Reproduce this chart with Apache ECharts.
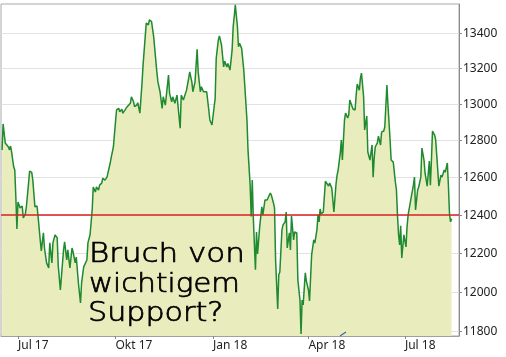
<!DOCTYPE html>
<html>
<head>
<meta charset="utf-8">
<script src="https://cdn.jsdelivr.net/npm/echarts@6/dist/echarts.min.js"></script>
<style>
html,body{margin:0;padding:0;background:#fff;}
#c{width:506px;height:357px;}
</style>
</head>
<body>
<div id="c"></div>
<script>
// ---- data ----
const dates = [
 '2017-06-16','2017-06-17','2017-06-19','2017-06-20','2017-06-22','2017-06-23','2017-06-24','2017-06-25','2017-06-27','2017-06-28','2017-06-29','2017-06-30',
 '2017-07-01','2017-07-03','2017-07-05','2017-07-06','2017-07-08','2017-07-09','2017-07-11','2017-07-12','2017-07-14','2017-07-15','2017-07-17','2017-07-19','2017-07-20','2017-07-22','2017-07-23','2017-07-25','2017-07-26','2017-07-28','2017-07-30','2017-07-31',
 '2017-08-02','2017-08-03','2017-08-05','2017-08-07','2017-08-08','2017-08-10','2017-08-13','2017-08-14','2017-08-16','2017-08-17','2017-08-19','2017-08-21','2017-08-22','2017-08-24','2017-08-25','2017-08-27','2017-08-29','2017-08-30',
 '2017-09-01','2017-09-02','2017-09-04','2017-09-05','2017-09-07','2017-09-09','2017-09-10','2017-09-12','2017-09-13','2017-09-15','2017-09-16','2017-09-18','2017-09-19','2017-09-21','2017-09-23','2017-09-24','2017-09-26','2017-09-27','2017-09-29',
 '2017-10-01','2017-10-02','2017-10-04','2017-10-05','2017-10-07','2017-10-08','2017-10-10','2017-10-12','2017-10-13','2017-10-15','2017-10-16','2017-10-18','2017-10-19','2017-10-21','2017-10-22','2017-10-24','2017-10-26','2017-10-27','2017-10-28','2017-10-30',
 '2017-11-01','2017-11-02','2017-11-04','2017-11-06','2017-11-07','2017-11-09','2017-11-10','2017-11-12','2017-11-14','2017-11-15','2017-11-17','2017-11-18','2017-11-20','2017-11-21','2017-11-23','2017-11-24','2017-11-26','2017-11-28','2017-11-29',
 '2017-12-01','2017-12-02','2017-12-04','2017-12-05','2017-12-07','2017-12-09','2017-12-10','2017-12-12','2017-12-13','2017-12-15','2017-12-17','2017-12-18','2017-12-20','2017-12-21','2017-12-23','2017-12-26','2017-12-28','2017-12-29','2017-12-31',
 '2018-01-01','2018-01-03','2018-01-04','2018-01-06','2018-01-07','2018-01-09','2018-01-11','2018-01-12','2018-01-14','2018-01-15','2018-01-17','2018-01-19','2018-01-20','2018-01-21','2018-01-22','2018-01-24','2018-01-25','2018-01-26','2018-01-28','2018-01-30','2018-01-31',
 '2018-02-02','2018-02-03','2018-02-05','2018-02-06','2018-02-07','2018-02-08','2018-02-10','2018-02-11','2018-02-12','2018-02-14','2018-02-15','2018-02-16','2018-02-17','2018-02-19','2018-02-21','2018-02-22','2018-02-24','2018-02-25','2018-02-27','2018-02-28',
 '2018-03-01','2018-03-03','2018-03-04','2018-03-05','2018-03-07','2018-03-08','2018-03-10','2018-03-11','2018-03-12','2018-03-14','2018-03-15','2018-03-16','2018-03-18','2018-03-19','2018-03-21','2018-03-22','2018-03-24','2018-03-25','2018-03-26','2018-03-27','2018-03-29','2018-03-30',
 '2018-04-01','2018-04-02','2018-04-04','2018-04-06','2018-04-07','2018-04-09','2018-04-10','2018-04-11','2018-04-12','2018-04-13','2018-04-15','2018-04-17','2018-04-18','2018-04-20','2018-04-21','2018-04-23','2018-04-24','2018-04-25','2018-04-27','2018-04-28','2018-04-29',
 '2018-05-01','2018-05-02','2018-05-03','2018-05-04','2018-05-05','2018-05-06','2018-05-08','2018-05-09','2018-05-10','2018-05-12','2018-05-13','2018-05-15','2018-05-16','2018-05-17','2018-05-19','2018-05-20','2018-05-21','2018-05-23','2018-05-24','2018-05-26','2018-05-27','2018-05-29','2018-05-31',
 '2018-06-01','2018-06-02','2018-06-03','2018-06-05','2018-06-06','2018-06-08','2018-06-09','2018-06-11','2018-06-12','2018-06-14','2018-06-15','2018-06-17','2018-06-18','2018-06-20','2018-06-22','2018-06-23','2018-06-24','2018-06-25','2018-06-26','2018-06-27','2018-06-28','2018-06-30',
 '2018-07-02','2018-07-03','2018-07-04','2018-07-06','2018-07-07','2018-07-09','2018-07-10','2018-07-11','2018-07-13','2018-07-14','2018-07-16','2018-07-17','2018-07-19','2018-07-20','2018-07-22','2018-07-24','2018-07-25','2018-07-26','2018-07-27','2018-07-29','2018-07-30','2018-07-31',
 '2018-08-02','2018-08-04','2018-08-05','2018-08-07','2018-08-08','2018-08-10','2018-08-11','2018-08-12','2018-08-13','2018-08-14'
];
const values = [
 12750,12892,12788,12798,12766,12750,12771,12739,12657,12641,12497,12328,
 12470,12439,12449,12386,12407,12449,12571,12635,12629,12587,12444,12449,12391,12270,12213,12307,12228,12151,12125,12255,
 12151,12255,12297,12281,12135,12011,12218,12260,12166,12218,12125,12228,12207,12151,12181,12048,11945,12048,
 12130,12140,12166,12255,12297,12428,12550,12523,12550,12534,12560,12571,12597,12587,12603,12629,12679,12711,12766,
 12903,12969,12978,12959,12973,12951,12969,12987,12996,13006,13042,13014,12987,12996,13009,12951,13117,13219,13229,13458,
 13448,13477,13467,13381,13381,13181,13125,13070,12978,13042,12996,13051,13163,13061,13014,13042,13006,13051,13042,
 12868,13051,13024,13014,13079,13144,13181,13125,13070,13125,13309,13181,13070,13098,13070,13070,12969,12914,12886,
 12877,13033,13257,13362,13385,13333,13209,13242,13209,13229,13191,13305,13438,13496,13563,13438,13323,13343,13314,13191,13098,
 12914,12749,12560,12393,12587,12384,12115,12312,12197,12339,12344,12444,12402,12481,12481,12481,12518,12507,12465,12439,
 12166,11915,12089,12104,12323,12349,12365,12417,12228,12307,12218,12396,12270,12312,12307,12063,11960,11788,11960,11935,12099,12058,
 12011,11955,12192,12270,12254,12323,12402,12365,12433,12407,12417,12581,12587,12555,12571,12544,12481,12417,12566,12614,12641,
 12733,12804,12695,12804,12914,12952,12925,12941,13024,12991,12974,12969,13051,13113,13079,13146,13174,13046,12859,12936,12739,12695,12777,
 12603,12706,12766,12788,12825,12777,12848,12853,12875,13107,12996,12804,12695,12684,12576,12534,12396,12297,12244,12344,12176,12297,
 12234,12339,12402,12465,12497,12560,12603,12428,12534,12550,12603,12760,12695,12624,12555,12690,12560,12695,12853,12831,12804,12722,
 12555,12614,12603,12641,12629,12679,12560,12412,12365,12381
];
const yTicks = [11800,12000,12200,12400,12600,12800,13000,13200,13400];
const xTickDates = ['2017-07-01','2017-10-01','2018-01-01','2018-04-01','2018-07-01'];
const monthNames = ['Jan','Feb','Mär','Apr','Mai','Jun','Jul','Aug','Sep','Okt','Nov','Dez'];
const supportLevel = 12400;
const yRange = [11778, 13568];
const xRange = ['2017-06-15','2018-08-21'];
const noteLines = ['Bruch von','wichtigem','Support?'];

// ---- helpers ----
function ts(s){ const p = s.split('-').map(Number); return new Date(p[0], p[1]-1, p[2]).getTime(); }
const L = Math.log;

const seriesData = dates.map((d,i)=>[ts(d), L(values[i])]);

const chart = echarts.init(document.getElementById('c'), null, {renderer:'canvas'});
const labelFont = {fontFamily:'Noto Sans', fontSize:12, color:'#222'};
const noteStyle = {fontFamily:'DejaVu Sans', fontSize:26, fontWeight:300, fill:'#000', stroke:'#000', lineWidth:0.7, verticalAlign:'middle'};

chart.setOption({
  animation:false,
  backgroundColor:'#fff',
  grid:{left:1, right:47, top:4, bottom:21, show:true, borderColor:'#a8a8a8', borderWidth:1, backgroundColor:'transparent'},
  xAxis:{
    type:'value',
    min:ts(xRange[0]), max:ts(xRange[1]),
    axisLine:{show:true, lineStyle:{color:'#a0a0a0', width:1}},
    axisTick:{show:true, length:3, lineStyle:{color:'#888'}, customValues:xTickDates.map(ts)},
    axisLabel:Object.assign({}, labelFont, {
      customValues:xTickDates.map(ts), align:'left', margin:4,
      formatter:function(v){ const d=new Date(v); return monthNames[d.getMonth()]+' '+String(d.getFullYear()).slice(2); }
    }),
    splitLine:{show:false}
  },
  yAxis:{
    type:'value', position:'right',
    min:L(yRange[0]), max:L(yRange[1]),
    axisLine:{show:true, lineStyle:{color:'#8a8a8a', width:1}},
    axisTick:{show:true, length:3, lineStyle:{color:'#888'}, customValues:yTicks.map(L)},
    axisLabel:Object.assign({}, labelFont, {
      customValues:yTicks.map(L), margin:4,
      formatter:function(v){ return String(Math.round(Math.exp(v))); }
    }),
    splitLine:{show:true, lineStyle:{color:'#e2e2e2', width:1}}
  },
  series:[{
    type:'line',
    data:seriesData,
    symbol:'none',
    lineStyle:{color:'#1f8a30', width:1.5},
    itemStyle:{color:'#1f8a30'},
    areaStyle:{color:'#e9edbd', opacity:1, origin:'start'},
    markLine:{
      silent:true, symbol:['none','none'], precision:10,
      label:{show:false},
      lineStyle:{color:'#d92020', width:1.5, type:'solid'},
      data:[{yAxis:L(supportLevel)}]
    }
  }],
  graphic:[
    {type:'text', x:89, y:255, scaleX:1.19, z:100, style:Object.assign({text:noteLines[0]}, noteStyle)},
    {type:'text', x:89, y:285, scaleX:1.13, z:100, style:Object.assign({text:noteLines[1]}, noteStyle)},
    {type:'text', x:88, y:314, scaleX:1.16, z:100, style:Object.assign({text:noteLines[2]}, noteStyle)},
    {type:'line', z:100, shape:{x1:340, y1:336, x2:346, y2:332}, style:{stroke:'#3a5fb0', lineWidth:1.2}}
  ]
});
</script>
</body>
</html>
